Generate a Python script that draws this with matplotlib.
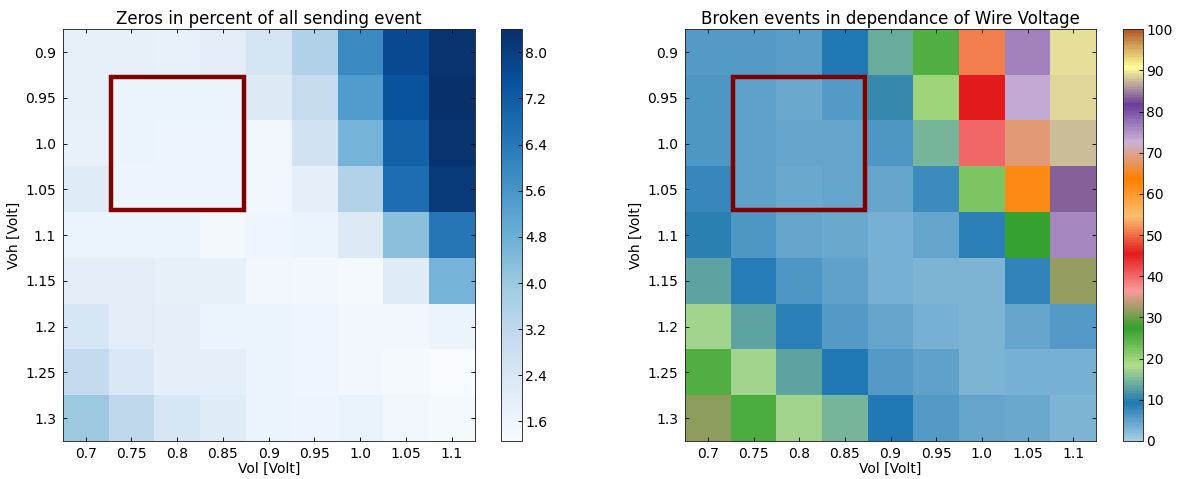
import matplotlib
matplotlib.use('Agg')
import matplotlib.pyplot as plt
import matplotlib.patches as patches
import numpy as np
from matplotlib import colors

# wire voltage grid
vol = [0.7, 0.75, 0.8, 0.85, 0.9, 0.95, 1.0, 1.05, 1.1]
voh = [0.9, 0.95, 1.0, 1.05, 1.1, 1.15, 1.2, 1.25, 1.3]
vol_labels = ['0.7', '0.75', '0.8', '0.85', '0.9', '0.95', '1.0', '1.05', '1.1']
voh_labels = ['0.9', '0.95', '1.0', '1.05', '1.1', '1.15', '1.2', '1.25', '1.3']

# zeros in percent, rows = voh, cols = vol
zeros = [
    [1.87, 1.87, 1.80, 2.00, 2.52, 3.54, 5.94, 7.70, 8.30],
    [1.87, 1.65, 1.65, 1.70, 2.20, 3.00, 5.36, 7.45, 8.40],
    [1.80, 1.65, 1.60, 1.60, 1.50, 2.60, 4.64, 7.06, 8.30],
    [2.10, 1.60, 1.60, 1.60, 1.50, 1.90, 3.50, 6.70, 8.10],
    [1.65, 1.65, 1.70, 1.40, 1.55, 1.70, 2.20, 4.26, 6.50],
    [2.00, 2.00, 1.85, 1.85, 1.50, 1.45, 1.35, 2.10, 4.65],
    [2.40, 2.00, 1.90, 1.70, 1.65, 1.55, 1.45, 1.45, 1.65],
    [3.10, 2.30, 1.90, 1.90, 1.65, 1.55, 1.45, 1.35, 1.26],
    [3.95, 3.20, 2.40, 2.10, 1.65, 1.60, 1.75, 1.50, 1.35],
]

# broken events in percent
broken = [
    [5.7, 5.7, 5.1, 9.1, 13.7, 25.0, 51.0, 76.2, 89.3],
    [6.2, 4.8, 4.2, 5.8, 10.6, 19.9, 45.5, 73.1, 89.0],
    [6.0, 4.8, 4.4, 4.4, 6.0, 14.5, 40.0, 68.7, 87.7],
    [7.5, 4.8, 4.1, 4.4, 4.4, 7.4, 22.1, 61.8, 83.4],
    [10.1, 6.0, 4.4, 4.1, 3.5, 4.4, 8.3, 27.0, 76.1],
    [13.2, 8.6, 6.1, 4.8, 3.5, 3.1, 3.0, 8.0, 32.0],
    [17.2, 13.2, 8.3, 5.8, 4.4, 3.5, 3.0, 4.4, 5.7],
    [25.1, 17.2, 13.2, 9.1, 5.7, 4.8, 3.1, 3.5, 3.3],
    [31.3, 25.6, 17.2, 14.8, 9.1, 5.7, 4.4, 4.1, 3.0],
]

# working point region marked on both maps
box_vol = (0.75, 0.85)
box_voh = (0.95, 1.05)

plt.rcParams['font.size'] = 12.5
plt.rcParams['xtick.direction'] = 'in'
plt.rcParams['ytick.direction'] = 'in'
plt.rcParams['xtick.top'] = True
plt.rcParams['ytick.right'] = True
plt.rcParams['xtick.major.size'] = 4
plt.rcParams['ytick.major.size'] = 4
plt.rcParams['axes.edgecolor'] = '#222222'

# old style continuous Paired map
paired = colors.LinearSegmentedColormap.from_list('paired_smooth', plt.cm.Paired.colors, N=256)

W, H = 1182, 479
fig = plt.figure(figsize=(W / 80, H / 80), dpi=80)
fig.patch.set_facecolor('white')

step = vol[1] - vol[0]
extent = [vol[0] - step / 2, vol[-1] + step / 2, voh[-1] + step / 2, voh[0] - step / 2]


def draw_map(ax_rect, cax_rect, data, cmap, title, ticks, fmt, vmin=None, vmax=None):
    ax = fig.add_axes(ax_rect)
    im = ax.imshow(np.array(data), cmap=cmap, extent=extent, aspect='auto',
                   interpolation='nearest', vmin=vmin, vmax=vmax)
    ax.set_xticks(vol)
    ax.set_xticklabels(vol_labels)
    ax.set_yticks(voh)
    ax.set_yticklabels(voh_labels)
    ax.tick_params(axis='x', pad=5)
    ax.tick_params(axis='y', pad=6)
    ax.set_xlabel('Vol [Volt]', labelpad=1)
    ax.set_ylabel('Voh [Volt]', labelpad=4)
    ax.set_title(title, fontsize=15, pad=5)

    # red frame, kept inside the cell borders
    lw = 4
    inset = lw / 2 / 72 * 80 * step / (ax_rect[2] * W / len(vol))
    x0 = box_vol[0] - step / 2 + inset
    y0 = box_voh[0] - step / 2 + inset
    rect = patches.Rectangle((x0, y0), box_vol[1] - box_vol[0] + step - 2 * inset,
                             box_voh[1] - box_voh[0] + step - 2 * inset,
                             fill=False, ec='#800000', lw=lw, zorder=4)
    ax.add_patch(rect)

    cax = fig.add_axes(cax_rect)
    cb = fig.colorbar(im, cax=cax, ticks=ticks)
    cb.ax.set_yticklabels([fmt % t for t in ticks])
    cb.ax.tick_params(direction='in', length=4, pad=3, right=True, left=False)
    cb.outline.set_edgecolor('#222222')
    return ax


draw_map([62.7 / W, 38 / H, 412 / W, 411.7 / H], [501 / W, 38 / H, 21 / W, 411.7 / H],
         zeros, plt.cm.Blues, 'Zeros in percent of all sending event',
         [1.6, 2.4, 3.2, 4.0, 4.8, 5.6, 6.4, 7.2, 8.0], '%.1f')

draw_map([685 / W, 38 / H, 411 / W, 411.7 / H], [1123 / W, 38 / H, 20 / W, 411.7 / H],
         broken, paired, 'Broken events in dependance of Wire Voltage',
         [0, 10, 20, 30, 40, 50, 60, 70, 80, 90, 100], '%d', vmin=0, vmax=100)

plt.savefig('out.png', dpi=80, facecolor='white')
